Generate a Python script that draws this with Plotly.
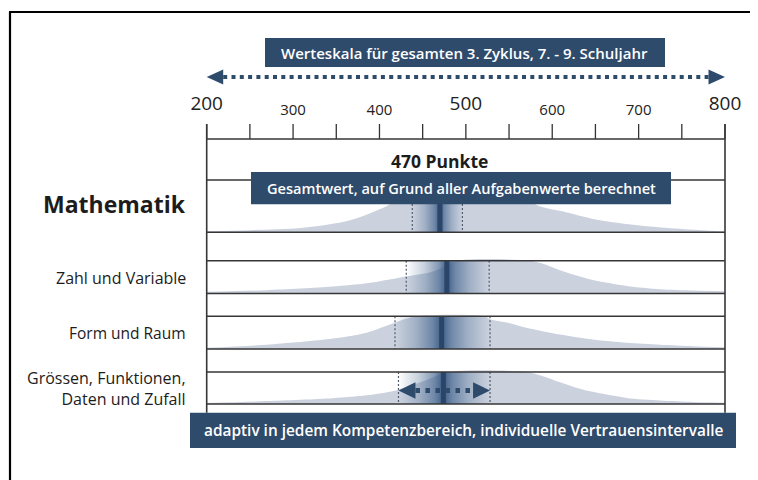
import plotly.graph_objects as go

# page body keeps an 8px margin: the figure is sized to fill the rest of the window
PAGE_OFF = 8
SCREEN_W, SCREEN_H = 758, 480
W, H = SCREEN_W - PAGE_OFF, SCREEN_H - PAGE_OFF

# ---------------- data ----------------
categories = ["Mathematik", "Zahl und Variable", "Form und Raum",
              "Grössen, Funktionen,<br>Daten und Zufall"]
points = [470, 478, 472, 474]
ci_low = [438, 431, 418, 422]
ci_high = [496, 527, 528, 528]

scale_min, scale_max = 200, 800
tick_values = [200, 300, 400, 500, 600, 700, 800]
tick_labels = ["200", "300", "400", "500", "600", "700", "800"]
major_labels = [200, 500, 800]
minor_ticks = [200, 250, 300, 350, 400, 450, 500, 550, 600, 650, 700, 750, 800]

# distribution silhouettes: score and share of the row height
math_x = [200, 250, 308, 366, 408, 440, 560, 582, 617, 655, 713, 788, 800]
math_h = [0.02, 0.04, 0.08, 0.23, 0.50, 0.80, 0.80, 0.52, 0.38, 0.23, 0.11, 0.025, 0.02]
zahl_x = [200, 269, 346, 385, 424, 462, 490, 574, 590, 609, 628, 647, 686, 725, 763, 800]
zahl_h = [0.05, 0.10, 0.21, 0.31, 0.49, 0.67, 1.0, 1.0, 0.90, 0.71, 0.55, 0.41, 0.23, 0.13, 0.09, 0.07]
form_x = [200, 269, 346, 385, 416, 443, 522, 528, 551, 570, 609, 647, 686, 725, 763, 800]
form_h = [0.04, 0.13, 0.32, 0.50, 0.79, 1.0, 1.0, 0.91, 0.79, 0.65, 0.44, 0.29, 0.19, 0.13, 0.085, 0.055]
groe_x = [200, 269, 346, 385, 420, 450, 480, 570, 590, 609, 628, 647, 686, 725, 763, 800]
groe_h = [0.03, 0.09, 0.18, 0.27, 0.43, 0.70, 1.0, 1.0, 0.86, 0.68, 0.51, 0.38, 0.19, 0.11, 0.065, 0.04]
profiles_x = [math_x, zahl_x, form_x, groe_x]
profiles_h = [math_h, zahl_h, form_h, groe_h]

# ---------------- layout geometry (screen pixels) ----------------
X0_PX, X1_PX = 206.7, 725.0
ppu = (X1_PX - X0_PX) / (scale_max - scale_min)
x_range = [scale_min + (PAGE_OFF - X0_PX) / ppu, scale_min + (SCREEN_W - X0_PX) / ppu]
y_range = [SCREEN_H, PAGE_OFF]

row_top = [180.0, 260.7, 316.3, 372.0]
row_bot = [232.3, 293.5, 349.0, 404.0]
h_lines = [139.0, 180.0, 232.3, 260.7, 293.5, 316.3, 349.0, 372.0, 404.0]

NAVY = "#2f4b6c"
BAR = "#2b4568"
CURVE = "rgb(203,210,222)"
FONT = "Open Sans"
TXT = "#1c1c1c"


def px(p):
    return (p - PAGE_OFF) / W


fig = go.Figure()

for i in range(len(categories)):
    top, bot = row_top[i], row_bot[i]
    hgt = bot - top
    ys = [bot - min(v, 1.0) * hgt for v in profiles_h[i]]
    fig.add_trace(go.Scatter(x=[scale_min, scale_max], y=[bot, bot], mode="lines",
                             line=dict(width=0), hoverinfo="skip", showlegend=False))
    fig.add_trace(go.Scatter(x=profiles_x[i], y=ys, mode="lines",
                             line=dict(width=0, shape="spline", smoothing=0.8),
                             fill="tonexty", fillcolor=CURVE,
                             hoverinfo="skip", showlegend=False))
    lo, c, hi = ci_low[i], points[i], ci_high[i]
    left_cs = [[0, "rgba(55,90,135,0)"], [0.45, "rgba(55,90,135,0.28)"],
               [0.8, "rgba(55,90,135,0.62)"], [1, "rgba(50,84,128,0.92)"]]
    right_cs = [[0, "rgba(50,84,128,0.92)"], [0.2, "rgba(55,90,135,0.62)"],
                [0.55, "rgba(55,90,135,0.28)"], [1, "rgba(55,90,135,0)"]]
    fig.add_trace(go.Scatter(x=[lo, c, c, lo, lo], y=[bot, bot, top, top, bot],
                             mode="none", fill="toself",
                             fillgradient=dict(type="horizontal", colorscale=left_cs),
                             hoverinfo="skip", showlegend=False))
    fig.add_trace(go.Scatter(x=[c, hi, hi, c, c], y=[bot, bot, top, top, bot],
                             mode="none", fill="toself",
                             fillgradient=dict(type="horizontal", colorscale=right_cs),
                             hoverinfo="skip", showlegend=False))
    fig.add_trace(go.Scatter(x=[lo, lo, None, hi, hi], y=[top, bot, None, top, bot],
                             mode="lines", line=dict(color="#505a6a", width=1.2, dash="2px,2px"),
                             hoverinfo="skip", showlegend=False))
    fig.add_trace(go.Scatter(x=[c, c], y=[top, bot], mode="lines",
                             line=dict(color=BAR, width=5),
                             hoverinfo="skip", showlegend=False))

# double arrow inside the last row (confidence interval)
k = len(categories) - 1
ay = row_bot[k] - 13.5
head = 17 / ppu
half = 8.3
fig.add_trace(go.Scatter(x=[ci_low[k] + head, ci_high[k] - head], y=[ay, ay], mode="lines",
                         line=dict(color=NAVY, width=5, dash="4.5px,5.5px"),
                         hoverinfo="skip", showlegend=False))
fig.add_trace(go.Scatter(x=[ci_low[k], ci_low[k] + head, ci_low[k] + head, ci_low[k], None,
                            ci_high[k], ci_high[k] - head, ci_high[k] - head, ci_high[k]],
                         y=[ay, ay - half, ay + half, ay, None, ay, ay - half, ay + half, ay],
                         mode="none", fill="toself", fillcolor=NAVY,
                         hoverinfo="skip", showlegend=False))

# scale arrow on top
ty = 77
thead = 16.5 / ppu
fig.add_trace(go.Scatter(x=[scale_min + thead, scale_max - thead], y=[ty, ty], mode="lines",
                         line=dict(color=NAVY, width=4, dash="4px,4.3px"),
                         hoverinfo="skip", showlegend=False))
fig.add_trace(go.Scatter(x=[scale_min, scale_min + thead, scale_min + thead, scale_min, None,
                            scale_max, scale_max - thead, scale_max - thead, scale_max],
                         y=[ty, ty - 7.5, ty + 7.5, ty, None, ty, ty - 7.5, ty + 7.5, ty],
                         mode="none", fill="toself", fillcolor=NAVY,
                         hoverinfo="skip", showlegend=False))

# tick marks and tick labels
tx, tyy = [], []
for v in minor_ticks:
    tx += [v, v, None]
    tyy += [124, 139, None]
fig.add_trace(go.Scatter(x=tx, y=tyy, mode="lines", line=dict(color="#333333", width=1.3),
                         hoverinfo="skip", showlegend=False))
fig.add_trace(go.Scatter(x=tick_values,
                         y=[105.5 if v in major_labels else 111 for v in tick_values],
                         mode="text", text=tick_labels, textposition="middle center",
                         textfont=dict(family=FONT, color="#222222",
                                       size=[19 if v in major_labels else 15 for v in tick_values]),
                         hoverinfo="skip", showlegend=False))

shapes = []
for yl in h_lines:
    shapes.append(dict(type="line", xref="x", yref="y", x0=scale_min, x1=scale_max, y0=yl, y1=yl,
                       line=dict(color="#363636", width=1.6), layer="above"))
for xv in (scale_min, scale_max):
    shapes.append(dict(type="line", xref="x", yref="y", x0=xv, x1=xv, y0=124, y1=412.7,
                       line=dict(color="#363636", width=1.6), layer="above"))
banners = [
    (265, 665, 38, 67, "Werteskala für gesamten 3. Zyklus, 7. - 9. Schuljahr", 15),
    (251, 671, 172, 204.3, "Gesamtwert, auf Grund aller Aufgabenwerte berechnet", 14.6),
    (190, 736, 412.7, 448, "adaptiv in jedem Kompetenzbereich, individuelle Vertrauensintervalle", 15.4),
]
annotations = []
for x0, x1, y0, y1, txt, fs in banners:
    shapes.append(dict(type="rect", xref="paper", yref="y", x0=px(x0), x1=px(x1), y0=y0, y1=y1,
                       fillcolor=NAVY, line=dict(width=0), layer="above"))
    annotations.append(dict(xref="paper", yref="y", x=px((x0 + x1) / 2), y=(y0 + y1) / 2,
                            text=txt, showarrow=False, xanchor="center", yanchor="middle",
                            font=dict(family=FONT, size=fs, color="white", weight=600)))
# outer frame
shapes.append(dict(type="line", xref="paper", yref="y", x0=px(9), x1=1, y0=12, y1=12,
                   line=dict(color="black", width=2.2), layer="above"))
shapes.append(dict(type="line", xref="paper", yref="y", x0=px(10), x1=px(10), y0=12, y1=SCREEN_H + 5,
                   line=dict(color="black", width=2.2), layer="above"))

annotations.append(dict(xref="x", yref="y", x=points[0], y=161, text="<b>470 Punkte</b>",
                        showarrow=False, xanchor="center", yanchor="middle",
                        font=dict(family=FONT, size=17.5, color=TXT)))

label_y = [204, 278, 333, 388]
label_size = [23, 16, 15.5, 16]
for i, name in enumerate(categories):
    txt = "<b>" + name + "</b>" if i == 0 else name
    annotations.append(dict(xref="paper", yref="y", x=px(188), y=label_y[i], text=txt,
                            showarrow=False, xanchor="right", yanchor="middle", align="right",
                            font=dict(family=FONT, size=label_size[i], color=TXT)))

fig.update_layout(
    width=W, height=H, margin=dict(l=0, r=0, t=0, b=0),
    paper_bgcolor="white", plot_bgcolor="white",
    xaxis=dict(range=x_range, visible=False, fixedrange=True),
    yaxis=dict(range=y_range, visible=False, fixedrange=True),
    shapes=shapes, annotations=annotations, showlegend=False,
)

fig.write_html("out.html")
